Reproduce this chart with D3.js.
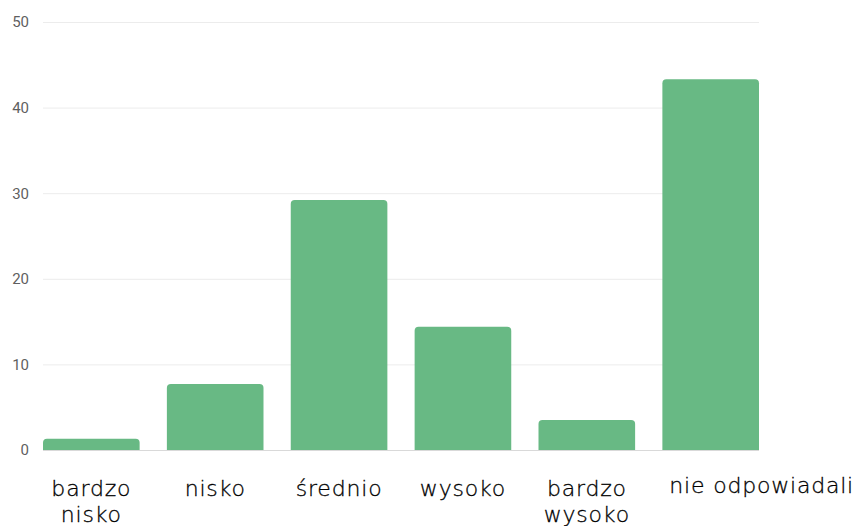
<!DOCTYPE html>
<html>
<head>
<meta charset="utf-8">
<script src="https://cdn.jsdelivr.net/npm/d3@7"></script>
<style>
  html, body { margin: 0; padding: 0; background: #fff; }
  svg { display: block; }
</style>
</head>
<body>
<svg id="chart" width="858" height="526"></svg>
<script>
// Category labels (lines split for wrapping) and values
const categories = ["bardzo nisko", "nisko", "średnio", "wysoko", "bardzo wysoko", "nie odpowiadali"];
const labelLines = [["bardzo", "nisko"], ["nisko"], ["średnio"], ["wysoko"], ["bardzo", "wysoko"], ["nie odpowiadali"]];
const values = [1.3, 7.7, 29.2, 14.4, 3.5, 43.3];
const yTicks = [0, 10, 20, 30, 40, 50];

(function () {
  const svg = d3.select("#chart");
  const plotLeft = 43, plotRight = 759, plotTop = 22, plotBottom = 450;

  const x = d3.scaleBand().domain(categories).range([plotLeft, plotRight]).paddingInner(0.22).paddingOuter(0);
  const y = d3.scaleLinear().domain([0, 50]).range([plotBottom, plotTop]);

  // Gridlines
  svg.append("g").selectAll("line").data(yTicks).join("line")
    .attr("x1", plotLeft).attr("x2", plotRight)
    .attr("y1", d => y(d) + 0.5).attr("y2", d => y(d) + 0.5)
    .attr("stroke", d => d === 0 ? "#d9d9d9" : "#ececec")
    .attr("stroke-width", 1);

  // Y axis labels
  const yAxis = d3.axisLeft(y).tickValues(yTicks).tickSize(0).tickPadding(0);
  const ga = svg.append("g").attr("transform", "translate(29,0)").call(yAxis);
  ga.select(".domain").remove();
  ga.selectAll("text")
    .attr("font-family", "Roboto, sans-serif")
    .attr("font-size", 15)
    .attr("fill", "#5f5f5f");

  // Bars with rounded top corners
  const r = 4;
  function barPath(x0, w, yTop, yBase) {
    const h = yBase - yTop;
    const rr = Math.min(r, h, w / 2);
    return `M${x0},${yBase}V${yTop + rr}Q${x0},${yTop} ${x0 + rr},${yTop}` +
           `H${x0 + w - rr}Q${x0 + w},${yTop} ${x0 + w},${yTop + rr}V${yBase}Z`;
  }
  svg.append("g").selectAll("path").data(values).join("path")
    .attr("d", (d, i) => barPath(x(categories[i]), x.bandwidth(), y(d), y(0)))
    .attr("fill", "#68b984");

  // Category labels
  const labelShift = [0, 0, 0, 0, 0, 51];
  const labelBase = [496, 496, 496, 496, 496, 493];
  const lab = svg.append("g").selectAll("text").data(labelLines).join("text")
    .attr("text-anchor", "middle")
    .attr("font-family", "'DejaVu Sans', sans-serif")
    .attr("font-weight", 300)
    .attr("font-size", 22)
    .attr("letter-spacing", 0.8)
    .attr("fill", "#000")
    .attr("stroke", "#000")
    .attr("stroke-width", 0.3)
    .attr("transform", (d, i) => `translate(${x(categories[i]) + x.bandwidth() / 2 + labelShift[i]},${labelBase[i]})`);
  lab.selectAll("tspan").data(d => d).join("tspan")
    .attr("x", 0)
    .attr("y", (d, j) => j * 26)
    .text(d => d);
})();
</script>
</body>
</html>
